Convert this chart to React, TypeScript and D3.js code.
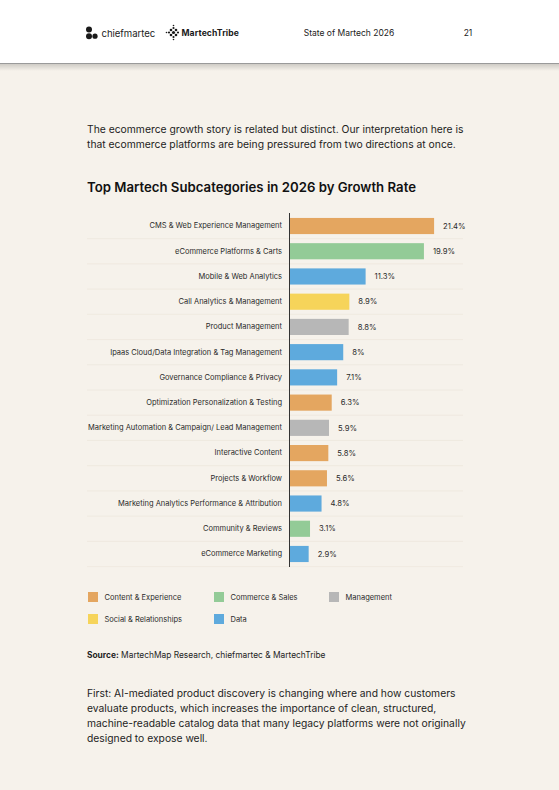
import { useEffect, useRef } from 'react'
import * as d3 from 'd3'

const W = 559
const H = 790

const categories = [
  'CMS & Web Experience Management',
  'eCommerce Platforms & Carts',
  'Mobile & Web Analytics',
  'Call Analytics & Management',
  'Product Management',
  'Ipaas Cloud/Data Integration & Tag Management',
  'Governance Compliance & Privacy',
  'Optimization Personalization & Testing',
  'Marketing Automation & Campaign/ Lead Management',
  'Interactive Content',
  'Projects & Workflow',
  'Marketing Analytics Performance & Attribution',
  'Community & Reviews',
  'eCommerce Marketing',
]
const growth = [21.4, 19.9, 11.3, 8.9, 8.8, 8, 7.1, 6.3, 5.9, 5.8, 5.6, 4.8, 3.1, 2.9]
const groupOf = [
  'Content & Experience', 'Commerce & Sales', 'Data', 'Social & Relationships', 'Management',
  'Data', 'Data', 'Content & Experience', 'Management', 'Content & Experience',
  'Content & Experience', 'Data', 'Commerce & Sales', 'Data',
]
const groups = ['Content & Experience', 'Commerce & Sales', 'Management', 'Social & Relationships', 'Data']
const groupColors = ['#E4A660', '#93CB97', '#B7B7B7', '#F6D45A', '#5EAADD']

const introLines = [
  'The ecommerce growth story is related but distinct. Our interpretation here is',
  'that ecommerce platforms are being pressured from two directions at once.',
]
const outroLines = [
  'First: AI-mediated product discovery is changing where and how customers',
  'evaluate products, which increases the importance of clean, structured,',
  'machine-readable catalog data that many legacy platforms were not originally',
  'designed to expose well.',
]

const FONT = 'Inter, "Noto Sans", sans-serif'

export default function App() {
  const svgRef = useRef<SVGSVGElement>(null)

  useEffect(() => {
    const svg = d3.select(svgRef.current)
    svg.selectAll('*').remove()

    const color = d3.scaleOrdinal<string, string>().domain(groups).range(groupColors)

    // page
    svg.append('rect').attr('width', W).attr('height', H).attr('fill', '#F6F2EB')

    // header band
    const defs = svg.append('defs')
    const grad = defs.append('linearGradient').attr('id', 'shadow').attr('x1', 0).attr('x2', 0).attr('y1', 0).attr('y2', 1)
    grad.append('stop').attr('offset', '0%').attr('stop-color', '#000').attr('stop-opacity', 0.16)
    grad.append('stop').attr('offset', '100%').attr('stop-color', '#000').attr('stop-opacity', 0)
    svg.append('rect').attr('y', 64).attr('width', W).attr('height', 7).attr('fill', 'url(#shadow)')
    svg.append('rect').attr('width', W).attr('height', 63).attr('fill', '#FFFFFF')
    svg.append('line').attr('x1', 0).attr('x2', W).attr('y1', 63.5).attr('y2', 63.5).attr('stroke', '#9A9A9A')

    // chiefmartec logo
    const logo = svg.append('g').attr('fill', '#1A1A1A')
    logo.append('circle').attr('cx', 89).attr('cy', 29.5).attr('r', 3)
    logo.append('circle').attr('cx', 89).attr('cy', 36.2).attr('r', 3)
    logo.append('circle').attr('cx', 95).attr('cy', 36.2).attr('r', 2.6)
    logo.append('text').attr('x', 101.5).attr('y', 36.5).attr('font-family', FONT).attr('font-size', 9.6)
      .attr('letter-spacing', -0.05).attr('fill', '#222').text('chiefmartec')

    // MartechTribe logo
    const tribe = svg.append('g').attr('fill', '#1A1A1A')
    const dots: [number, number, number][] = [
      [169, 32.5, 1.1], [178, 32.5, 1.1], [173.5, 28, 1.1], [173.5, 37, 1.1],
      [171, 30, 1.3], [176, 30, 1.3], [171, 35, 1.3], [176, 35, 1.3], [173.5, 32.5, 1.6],
      [173.5, 25.5, 0.8], [173.5, 39.5, 0.8], [166.5, 32.5, 0.8],
    ]
    dots.forEach(([x, y, r]) => tribe.append('circle').attr('cx', x).attr('cy', y).attr('r', r))
    tribe.append('text').attr('x', 181.5).attr('y', 36).attr('font-family', FONT).attr('font-size', 8.6)
      .attr('font-weight', 700).attr('letter-spacing', 0.1).text('MartechTribe')

    svg.append('text').attr('x', 349).attr('y', 36).attr('text-anchor', 'middle').attr('font-family', FONT)
      .attr('font-size', 8.5).attr('fill', '#222').text('State of Martech 2026')
    svg.append('text').attr('x', 468).attr('y', 36).attr('text-anchor', 'middle').attr('font-family', FONT)
      .attr('font-size', 8.5).attr('fill', '#222').text('21')

    // intro paragraph
    svg.append('g').selectAll('text').data(introLines).join('text')
      .attr('x', 87).attr('y', (_, i) => 133 + i * 15)
      .attr('font-family', FONT).attr('font-size', 10.33).attr('fill', '#1E1E1E').text(d => d)

    // title
    svg.append('text').attr('x', 87).attr('y', 192).attr('font-family', FONT).attr('font-size', 13.2)
      .attr('font-weight', 600).attr('fill', '#111').text('Top Martech Subcategories in 2026 by Growth Rate')

    // chart
    const x = d3.scaleLinear().domain([0, 25]).range([289, 458.5])
    const y = d3.scaleBand<string>().domain(categories).range([213.4, 566.6]).paddingInner(0.36).paddingOuter(0.18)
    const gap = (y.step() - y.bandwidth()) / 2

    const chart = svg.append('g')

    chart.selectAll('line.sep').data(categories).join('line')
      .attr('class', 'sep')
      .attr('x1', 87).attr('x2', 463)
      .attr('y1', d => (y(d) ?? 0) + y.bandwidth() + gap)
      .attr('y2', d => (y(d) ?? 0) + y.bandwidth() + gap)
      .attr('stroke', '#EDE7DD').attr('stroke-width', 0.8)

    chart.selectAll('rect.bar').data(categories).join('rect')
      .attr('class', 'bar')
      .attr('x', x(0))
      .attr('y', d => y(d) ?? 0)
      .attr('width', (_, i) => x(growth[i]) - x(0))
      .attr('height', y.bandwidth())
      .attr('fill', (_, i) => color(groupOf[i]))

    chart.selectAll('text.val').data(categories).join('text')
      .attr('class', 'val')
      .attr('x', (_, i) => x(growth[i]) + 9)
      .attr('y', d => (y(d) ?? 0) + y.bandwidth() / 2)
      .attr('dy', '0.35em')
      .attr('font-family', FONT).attr('font-size', 7.7).attr('fill', '#2A2A2A')
      .text((_, i) => `${growth[i]}%`)

    // category axis
    chart.append('g')
      .attr('transform', `translate(${x(0)},0)`)
      .call(d3.axisLeft(y).tickSize(0).tickPadding(7))
      .call(ax => {
        ax.select('.domain').attr('stroke', '#333').attr('stroke-width', 1)
          .attr('d', `M0.5,213V567`)
        ax.selectAll('text').attr('font-family', FONT).attr('font-size', 7.5).attr('fill', '#2A2A2A')
      })

    // legend
    const legendPos: [number, number][] = [[88, 592], [214, 592], [329, 592], [88, 614], [214, 614]]
    const legend = svg.append('g').selectAll('g').data(groups).join('g')
      .attr('transform', (_, i) => `translate(${legendPos[i][0]},${legendPos[i][1]})`)
    legend.append('rect').attr('width', 10).attr('height', 10).attr('fill', (_, i) => groupColors[i])
    legend.append('text').attr('x', 16.5).attr('y', 5).attr('dy', '0.35em')
      .attr('font-family', FONT).attr('font-size', 7.5).attr('fill', '#2A2A2A').text(d => d)

    // source
    const src = svg.append('text').attr('x', 87).attr('y', 658).attr('font-family', FONT)
      .attr('font-size', 8.4).attr('fill', '#1E1E1E')
    src.append('tspan').attr('font-weight', 700).text('Source:')
    src.append('tspan').text(' MartechMap Research, chiefmartec & MartechTribe')

    // closing paragraph
    svg.append('g').selectAll('text').data(outroLines).join('text')
      .attr('x', 87).attr('y', (_, i) => 697 + i * 15)
      .attr('font-family', FONT).attr('font-size', 10.3).attr('fill', '#1E1E1E').text(d => d)
  }, [])

  return (
    <div style={{ position: 'absolute', left: 0, top: 0, width: W, height: H }}>
      <svg ref={svgRef} width={W} height={H} style={{ display: 'block' }} />
    </div>
  )
}
